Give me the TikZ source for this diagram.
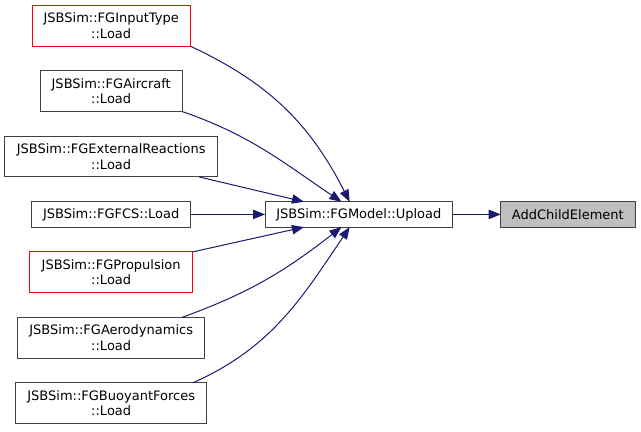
\documentclass[tikz,border=0pt]{standalone}
\usepackage{fontspec}
\setmainfont{DejaVu Sans}
\usepackage{xcolor}
\usetikzlibrary{positioning}
\usetikzlibrary{arrows.meta}
\definecolor{edgeblue}{HTML}{191970}
\definecolor{boxline}{HTML}{404040}
\definecolor{rootfill}{HTML}{BFBFBF}
\definecolor{linkred}{HTML}{FF0000}
\tikzset{
  % A function box in the call graph
  fn/.style={
    draw=boxline, fill=white, rectangle, align=center, line width=0.75pt,
    font=\fontsize{9.75}{11.5}\selectfont, inner sep=0pt, outer sep=0pt,
    minimum height=30.5pt, minimum width=#1},
  % A one-line function box
  fnone/.style={fn=#1, minimum height=19pt},
  % A box whose documentation is not shown
  nodoc/.style={draw=linkred},
  % The function the graph is about
  root/.style={fill=rootfill},
  % Calls
  calls/.style={-{Triangle[length=9pt, width=7pt]}, draw=edgeblue, line width=0.75pt},
}
\begin{document}
\begin{tikzpicture}[x=0.75pt, y=0.75pt, node distance=18.6pt and 55.7pt]
  \useasboundingbox (0,0) rectangle (641,-431);

  \node[fn=118.3pt, nodoc] (inputtype) at (111.2,-25.7) {JSBSim::FGInputType\\::Load};
  \node[fn=106.3pt, below=of inputtype]  (aircraft)   {JSBSim::FGAircraft\\::Load};
  \node[fn=159.5pt, below=of aircraft]   (extreact)   {JSBSim::FGExternalReactions\\::Load};
  \node[fnone=119.3pt, below=of extreact] (fcs)       {JSBSim::FGFCS::Load};
  \node[fn=122.3pt, nodoc, below=of fcs] (propulsion) {JSBSim::FGPropulsion\\::Load};
  \node[fn=140.6pt, below=of propulsion] (aero)       {JSBSim::FGAerodynamics\\::Load};
  \node[fn=143.6pt, below=of aero]       (buoyant)    {JSBSim::FGBuoyantForces\\::Load};

  \node[fnone=140.8pt, right=of fcs]                (upload)   {JSBSim::FGModel::Upload};
  \node[fnone=100.7pt, root, right=36pt of upload]  (addchild) {AddChildElement};

  \draw[calls] (upload) -- (addchild);

  \draw[calls] (inputtype.south east) to[out=-25, in=117] (upload.126);
  \draw[calls] (aircraft.south east)  to[out=-19, in=146] (upload.144);
  \draw[calls] (extreact.-13) -- (upload.167);
  \draw[calls] (fcs) -- (upload);
  \draw[calls] (propulsion.north east) -- (upload.-167);
  \draw[calls] (aero.16)    to[out=20, in=-142] (upload.-144);
  \draw[calls] (buoyant.14) to[out=24, in=-124] (upload.-126);

\end{tikzpicture}
\end{document}
